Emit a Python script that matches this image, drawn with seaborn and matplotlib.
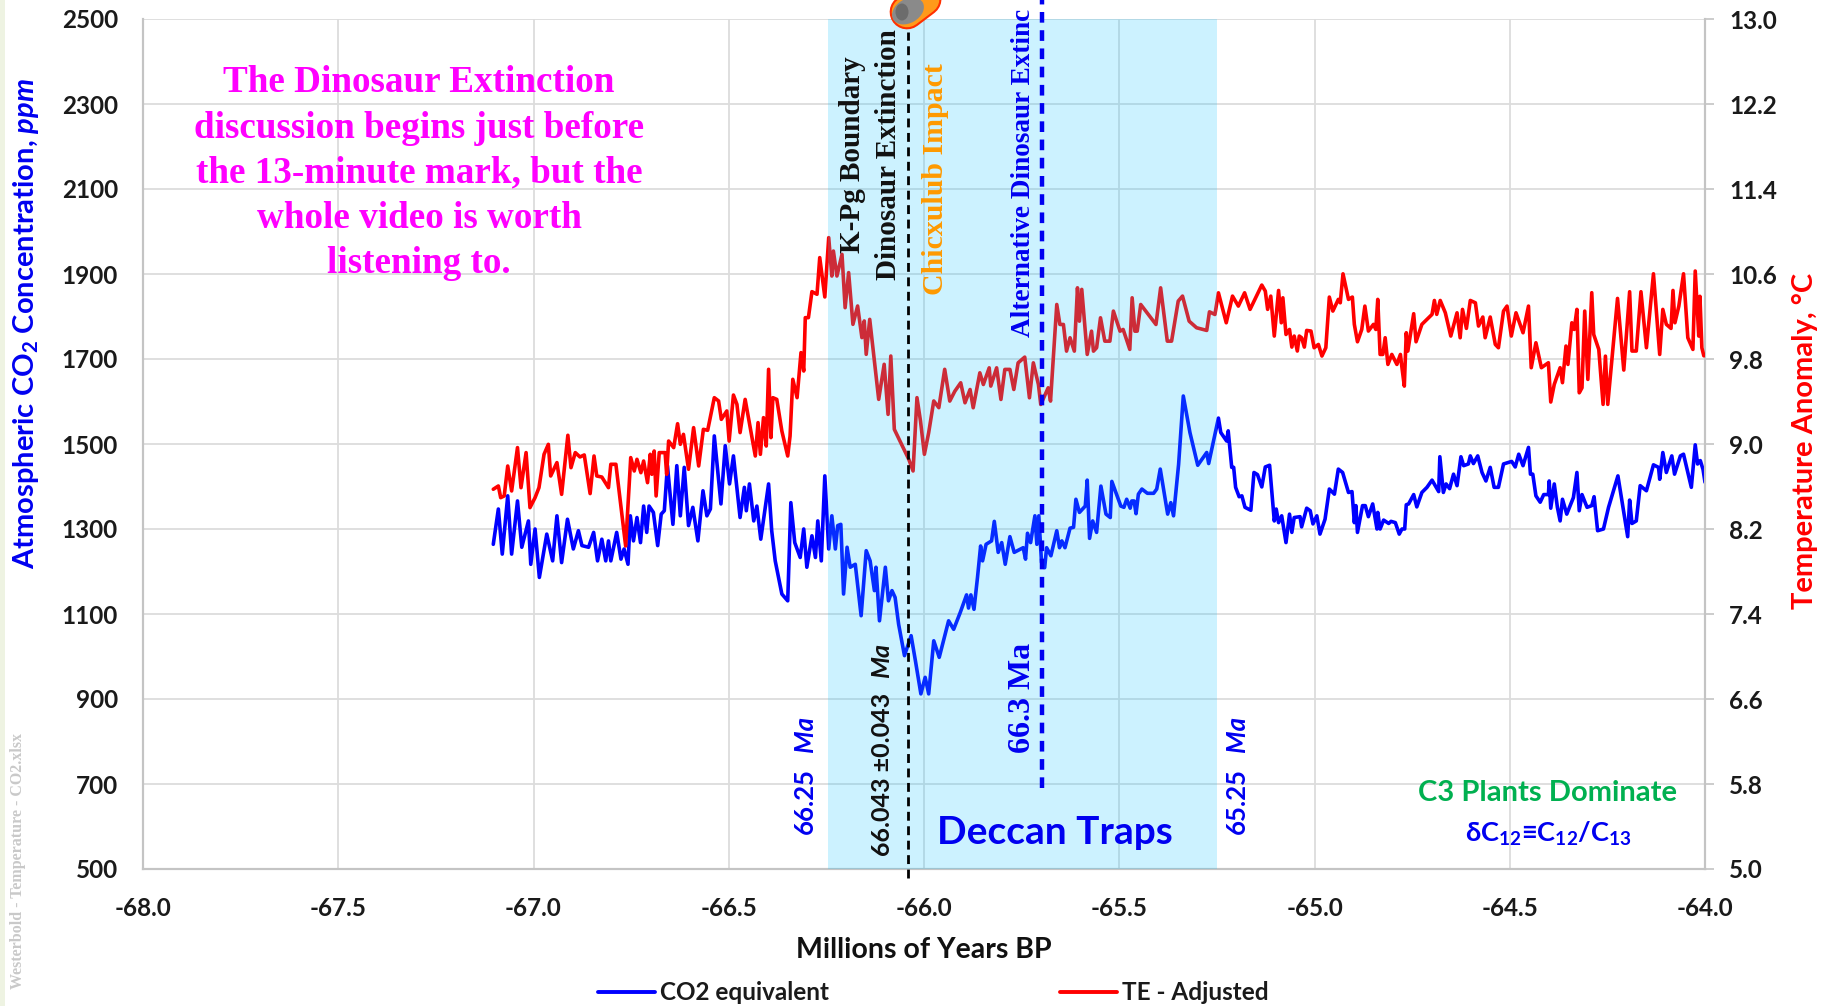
import matplotlib
matplotlib.use("Agg")
import matplotlib.pyplot as plt
from matplotlib.patches import Ellipse, Rectangle
from matplotlib.lines import Line2D
from matplotlib.transforms import Affine2D
import pandas as pd
import seaborn as sns

co2_years = [-67.103,-67.090,-67.080,-67.066,-67.056,-67.041,-67.030,-67.013,-67.007,-66.996,-66.985,-66.966,-66.951,-66.940,-66.928,-66.913,-66.898,-66.885,-66.876,-66.859,-66.846,-66.836,-66.825,-66.815,-66.808,-66.802,-66.787,-66.776,-66.768,-66.758,-66.752,-66.744,-66.735,-66.726,-66.718,-66.710,-66.704,-66.693,-66.682,-66.673,-66.665,-66.657,-66.643,-66.633,-66.624,-66.614,-66.603,-66.592,-66.579,-66.566,-66.556,-66.547,-66.537,-66.520,-66.509,-66.498,-66.488,-66.471,-66.460,-66.455,-66.447,-66.436,-66.428,-66.418,-66.398,-66.390,-66.381,-66.364,-66.349,-66.341,-66.331,-66.317,-66.308,-66.300,-66.287,-66.278,-66.272,-66.263,-66.254,-66.244,-66.236,-66.227,-66.221,-66.213,-66.206,-66.197,-66.189,-66.176,-66.161,-66.148,-66.138,-66.127,-66.123,-66.114,-66.099,-66.091,-66.082,-66.074,-66.065,-66.050,-66.033,-66.022,-66.008,-65.997,-65.988,-65.975,-65.961,-65.950,-65.937,-65.924,-65.907,
 -65.891,-65.886,-65.880,-65.872,-65.863,-65.855,-65.850,-65.841,-65.827,-65.820,-65.810,-65.801,-65.792,-65.780,-65.769,-65.746,-65.740,-65.735,-65.727,-65.716,-65.711,-65.706,-65.699,-65.691,-65.686,-65.675,-65.660,-65.653,-65.647,-65.639,-65.626,-65.617,-65.611,-65.602,-65.587,-65.582,-65.576,-65.568,-65.558,-65.547,-65.534,-65.523,-65.519,-65.496,-65.488,-65.481,-65.472,-65.468,-65.462,-65.457,-65.451,-65.442,-65.428,-65.412,-65.404,-65.395,-65.376,-65.368,-65.361,-65.348,-65.336,-65.319,-65.299,-65.276,-65.271,-65.246,-65.240,-65.225,-65.221,-65.212,-65.207,-65.202,-65.193,
 -65.186,-65.178,-65.163,-65.155,-65.146,-65.135,-65.126,-65.115,-65.103,-65.098,-65.092,-65.084,-65.073,-65.064,-65.058,-65.052,-65.037,-65.033,-65.020,-65.011,-65.004,-64.994,-64.986,-64.973,-64.962,-64.949,-64.939,-64.928,-64.913,-64.904,-64.898,-64.894,-64.890,-64.877,-64.870,-64.862,-64.851,-64.840,-64.838,-64.832,-64.823,-64.810,-64.804,-64.793,-64.783,-64.776,-64.769,-64.765,-64.759,-64.746,-64.738,-64.725,-64.712,-64.699,-64.682,-64.679,-64.670,-64.663,-64.654,-64.644,-64.635,-64.625,-64.618,-64.606,-64.601,-64.593,-64.582,-64.571,-64.561,-64.550,-64.540,-64.529,-64.516,-64.495,-64.486,-64.477,-64.466,-64.452,-64.447,-64.441,-64.433,-64.422,-64.413,-64.401,-64.399,-64.395,-64.386,-64.378,-64.371,-64.365,-64.354,-64.337,-64.328,-64.322,-64.315,-64.302,-64.290,-64.284,-64.275,-64.260,-64.247,-64.223,-64.198,-64.193,-64.187,-64.176,-64.166,-64.150,-64.132,-64.119,-64.116,-64.108,-64.099,-64.085,-64.078,-64.063,-64.055,-64.035,-64.025,-64.019,-64.012,-64.005,-64.000]
co2_ppm = [1264,1347,1241,1378,1241,1366,1257,1319,1217,1300,1186,1288,1225,1331,1221,1323,1253,1296,1261,1257,1292,1225,1276,1225,1272,1225,1292,1229,1253,1217,1331,1272,1327,1268,1354,1292,1354,1339,1261,1335,1343,1449,1311,1449,1331,1445,1308,1351,1272,1390,1331,1347,1519,1359,1496,1406,1472,1327,1398,1343,1406,1319,1354,1276,1406,1296,1225,1147,1131,1362,1268,1233,1300,1210,1284,1233,1319,1225,1425,1253,1331,1253,1308,1311,1147,1257,1210,1217,1096,1249,1225,1155,1210,1084,1210,1131,1155,1139,1076,1002,1049,990,912,951,912,1037,998,1037,1084,1064,1104,
 1145,1114,1145,1111,1186,1260,1225,1264,1272,1318,1245,1268,1217,1282,1245,1256,1229,1290,1268,1331,1264,1331,1221,1209,1256,1237,1296,1256,1272,1256,1302,1304,1370,1339,1354,1415,1278,1319,1292,1401,1335,1327,1412,1354,1351,1370,1349,1366,1366,1336,1382,1394,1384,1384,1394,1441,1335,1362,1331,1452,1613,1527,1450,1480,1454,1561,1527,1507,1531,1445,1445,1398,1376,
 1378,1351,1344,1433,1428,1399,1446,1450,1319,1347,1315,1331,1268,1335,1292,1327,1329,1305,1349,1343,1312,1331,1288,1323,1394,1382,1441,1433,1386,1388,1315,1355,1292,1355,1355,1329,1359,1300,1339,1300,1321,1313,1318,1315,1288,1300,1300,1357,1359,1381,1352,1386,1398,1415,1388,1470,1386,1406,1395,1429,1402,1470,1449,1453,1472,1454,1472,1433,1413,1445,1398,1398,1453,1459,1446,1476,1449,1492,1429,1429,1378,1363,1381,1381,1413,1349,1406,1351,1319,1370,1335,1374,1433,1343,1381,1351,1355,1376,1296,1300,1351,1425,1282,1368,1313,1319,1402,1390,1451,1445,1417,1480,1433,1472,1429,1472,1476,1398,1498,1453,1461,1440,1410]

temp_years = [-67.103,-67.090,-67.084,-67.075,-67.066,-67.056,-67.041,-67.032,-67.019,-67.009,-66.996,-66.986,-66.973,-66.962,-66.956,-66.940,-66.928,-66.912,-66.904,-66.893,-66.881,-66.870,-66.855,-66.845,-66.838,-66.825,-66.808,-66.802,-66.789,-66.764,-66.751,-66.742,-66.735,-66.725,-66.718,-66.708,-66.701,-66.697,-66.691,-66.686,-66.678,-66.663,-66.659,-66.654,-66.641,-66.631,-66.624,-66.616,-66.603,-66.590,-66.577,-66.565,-66.554,-66.537,-66.526,-66.519,-66.505,-66.499,-66.488,-66.479,-66.471,-66.458,-66.432,-66.425,-66.419,-66.411,-66.404,-66.398,-66.392,-66.387,-66.377,-66.364,-66.349,-66.343,-66.336,-66.325,-66.315,-66.308,-66.304,-66.296,-66.287,-66.274,-66.267,-66.254,-66.244,-66.236,-66.232,-66.223,-66.210,-66.202,-66.193,-66.182,-66.170,-66.159,-66.153,-66.148,-66.139,-66.116,-66.102,-66.092,-66.085,-66.076,-66.039,-66.028,-66.018,-66.009,-65.999,-65.988,-65.975,-65.962,-65.947,-65.934,-65.921,-65.906,
 -65.895,-65.882,-65.874,-65.857,-65.848,-65.833,-65.829,-65.814,-65.803,-65.793,-65.780,-65.770,-65.759,-65.742,-65.730,-65.720,-65.707,-65.701,-65.682,-65.676,-65.660,-65.652,-65.643,-65.635,-65.626,-65.615,-65.607,-65.602,-65.596,-65.582,-65.571,-65.566,-65.558,-65.548,-65.537,-65.524,-65.515,-65.498,-65.490,-65.473,-65.467,-65.460,-65.454,-65.445,-65.406,-65.394,-65.377,-65.366,-65.349,-65.338,-65.321,-65.302,-65.276,-65.269,-65.255,-65.246,
 -65.226,-65.210,-65.195,-65.179,-65.165,-65.135,-65.126,-65.120,-65.112,-65.103,-65.092,-65.085,-65.081,-65.073,-65.064,-65.058,-65.052,-65.044,-65.039,-65.033,-65.026,-65.020,-65.009,-65.001,-64.990,-64.981,-64.971,-64.962,-64.953,-64.939,-64.934,-64.927,-64.913,-64.903,-64.898,-64.890,-64.879,-64.871,-64.862,-64.849,-64.843,-64.838,-64.832,-64.825,-64.819,-64.812,-64.802,-64.789,-64.780,-64.776,-64.770,-64.765,-64.761,-64.746,-64.740,-64.725,-64.699,-64.693,-64.687,-64.678,-64.665,-64.651,-64.635,-64.627,-64.621,-64.611,-64.601,-64.588,-64.580,-64.569,-64.563,-64.550,-64.537,-64.529,-64.516,-64.507,-64.496,-64.484,-64.466,-64.452,-64.445,-64.433,-64.419,-64.401,-64.395,-64.386,-64.371,-64.365,-64.356,-64.351,-64.341,-64.335,-64.328,-64.322,-64.315,-64.308,-64.300,-64.290,-64.285,-64.272,-64.261,-64.255,-64.249,-64.224,-64.208,-64.193,-64.187,-64.176,-64.164,-64.150,-64.132,-64.116,-64.108,-64.099,-64.087,-64.082,-64.077,-64.067,-64.055,-64.044,-64.031,-64.025,-64.016,-64.013,-64.008,-64.003]
temp_anom = [8.574,8.605,8.495,8.511,8.793,8.558,8.966,8.589,8.919,8.401,8.495,8.589,8.903,8.997,8.699,8.825,8.526,9.082,8.777,8.919,8.878,8.897,8.533,8.887,8.699,8.689,8.589,8.809,8.809,8.040,8.872,8.746,8.856,8.730,8.840,8.636,8.903,8.715,8.934,8.511,8.919,8.919,8.715,9.028,8.966,9.191,8.997,9.091,8.762,9.154,8.793,9.138,9.129,9.436,9.405,9.232,9.311,9.028,9.461,9.373,9.107,9.420,8.887,9.201,8.903,9.248,8.981,9.703,9.060,9.436,9.420,9.122,8.887,9.075,9.609,9.436,9.860,9.687,10.189,10.189,10.434,10.409,10.754,10.384,10.942,10.581,10.816,10.581,10.785,10.283,10.613,10.126,10.299,10.001,10.158,9.844,10.173,9.420,9.750,9.279,9.828,9.138,8.856,8.746,9.436,9.217,8.903,9.107,9.405,9.342,9.703,9.404,9.497,9.576,
 9.388,9.513,9.341,9.670,9.560,9.717,9.545,9.717,9.419,9.702,9.702,9.513,9.764,9.818,9.435,9.764,9.560,9.372,9.529,9.404,10.313,10.125,10.125,9.874,10.000,9.874,10.470,10.156,10.455,9.843,10.062,9.874,9.906,10.188,9.968,9.968,10.251,10.062,10.078,9.890,10.376,10.062,10.062,10.313,10.125,10.470,9.968,9.968,10.345,10.392,10.156,10.094,10.069,10.244,10.219,10.423,
 10.141,10.392,10.298,10.423,10.267,10.496,10.439,10.267,10.392,10.016,10.445,10.141,10.376,10.031,10.078,9.912,10.016,9.875,10.016,10.000,9.912,10.069,10.063,9.906,9.937,9.828,9.906,10.383,10.251,10.361,10.329,10.602,10.361,10.383,10.126,9.962,10.078,10.298,10.063,10.126,10.078,10.361,9.843,9.843,10.000,9.749,9.843,9.749,9.843,9.718,9.545,10.047,9.875,10.226,9.962,10.126,10.220,10.351,10.220,10.351,10.235,10.016,10.235,10.000,10.267,10.088,10.351,10.329,10.110,10.195,10.000,10.195,9.937,9.906,10.251,10.298,10.016,10.235,10.047,10.298,9.718,9.953,9.718,9.765,9.395,9.561,9.718,9.577,9.922,9.749,10.141,10.078,10.267,9.482,9.529,10.251,9.608,10.424,10.031,9.890,9.373,9.827,9.373,10.370,9.696,10.433,9.875,9.875,10.433,9.906,10.602,9.843,10.267,10.126,10.088,10.445,10.141,10.298,10.602,10.000,9.890,10.628,10.016,10.390,9.905,9.830]

x_ticks = [-68.0,-67.5,-67.0,-66.5,-66.0,-65.5,-65.0,-64.5,-64.0]
co2_ticks = [500,700,900,1100,1300,1500,1700,1900,2100,2300,2500]
temp_ticks = [5.0,5.8,6.6,7.4,8.2,9.0,9.8,10.6,11.4,12.2,13.0]
message = ["The Dinosaur Extinction","discussion begins just before","the 13-minute mark, but the","whole video is worth","listening to."]

W, H = 1836, 1006
sns.set_theme(style="white")
SANS = "Lato"
SERIF = "Liberation Serif"
plt.rcParams.update({
    "font.family": [SANS, "DejaVu Sans"],
    "mathtext.fontset": "custom",
    "mathtext.rm": "Lato:bold",
    "mathtext.bf": "Lato:bold",
    "mathtext.it": "Lato:italic:bold",
    "mathtext.default": "bf",
    "mathtext.fallback": "stixsans",
})

def fx(px): return px / W
def fy(py): return 1 - py / H

fig = plt.figure(figsize=(W / 100, H / 100), dpi=100, facecolor="white")
fig.add_artist(Rectangle((0, 0), fx(5), 1, transform=fig.transFigure, color="#eef3e2", lw=0))
ax = fig.add_axes([fx(143), fy(869), (1705 - 143) / W, (869 - 19) / H])
ax2 = ax.twinx()

co2 = pd.DataFrame({"year": co2_years, "ppm": co2_ppm})
temp = pd.DataFrame({"year": temp_years, "anom": temp_anom})
sns.lineplot(data=co2, x="year", y="ppm", ax=ax, color="#0000ff", lw=2.6, estimator=None, sort=False, zorder=3, legend=False)
sns.lineplot(data=temp, x="year", y="anom", ax=ax2, color="#ff0000", lw=2.6, estimator=None, sort=False, zorder=3, legend=False)

ax.set_xlim(-68, -64); ax.set_ylim(500, 2500); ax2.set_ylim(5, 13)
ax.set_xticks(x_ticks); ax.set_yticks(co2_ticks); ax2.set_yticks(temp_ticks)
ax.set_xticklabels([f"{v:.1f}" for v in x_ticks])
ax.set_yticklabels([str(v) for v in co2_ticks])
ax2.set_yticklabels([f"{v:.1f}" for v in temp_ticks])
ax.grid(True, color="#dcdcdc", lw=1.3); ax.set_axisbelow(True)
ax2.grid(False)
for a in (ax, ax2):
    a.set_xlabel(""); a.set_ylabel("")
    a.patch.set_visible(a is ax)
    for s, sp in a.spines.items():
        sp.set_color("#c4c4c4"); sp.set_linewidth(1.5)
        sp.set_visible(s != "top")
ax.tick_params(axis="x", length=0, pad=20, labelsize=17.5, labelcolor="#1a1a1a")
ax.tick_params(axis="y", length=0, pad=18, labelsize=17.5, labelcolor="#1a1a1a")
ax2.tick_params(axis="y", length=6.5, width=1.2, color="#c4c4c4", pad=11, labelsize=17.5, labelcolor="#1a1a1a")
for l in ax.get_xticklabels() + ax.get_yticklabels() + ax2.get_yticklabels():
    l.set_fontweight("bold")

# translucent Deccan Traps band over lines
ax2.axvspan(-66.245, -65.25, color=(27 / 255, 200 / 255, 1), alpha=0.224, lw=0, zorder=5)
# event lines
ax2.plot([-66.04, -66.04], [4.92, 12.88], color="black", lw=2.0, dashes=(3.2, 2.0), zorder=6, clip_on=False)
ax2.plot([-65.698, -65.698], [5.76, 13.2], color="#0000f0", lw=3.2, dashes=(2.4, 1.7), zorder=6, clip_on=False)

def vtext(px, py, s, **kw):
    fig.text(fx(px), fy(py), s, rotation=90, ha="center", va="center", **kw)

bs = dict(family=SERIF, weight="bold")
vtext(853, 155, "K-Pg Boundary", color="#111111", fontsize=21, **bs)
vtext(888, 155, "Dinosaur Extinction", color="#111111", fontsize=21, **bs)
vtext(936, 179, "Chicxulub Impact", color="#ff9900", fontsize=21.5, **bs)
fig.text(fx(1023), fy(337), "Alternative Dinosaur Extinc", rotation=90, ha="center", va="bottom", color="#0000f0", fontsize=19.6, **bs)
vtext(1022, 698, "66.3 Ma", color="#0000f0", fontsize=23, **bs)

vtext(805, 801, "66.25", color="#0000f0", fontsize=18.5, weight="bold")
vtext(805, 734, "Ma", color="#0000f0", fontsize=18.5, weight="bold", style="italic")
vtext(1237, 801, "65.25", color="#0000f0", fontsize=18.5, weight="bold")
vtext(1237, 734, "Ma", color="#0000f0", fontsize=18.5, weight="bold", style="italic")
vtext(882, 774, "66.043 ±0.043", color="#111111", fontsize=18, weight="bold")
vtext(882, 661, "Ma", color="#111111", fontsize=18, weight="bold", style="italic")

fig.text(fx(1055), fy(833), "Deccan Traps", ha="center", va="center", color="#0000f0", fontsize=28, weight="bold")
fig.text(fx(1547), fy(793), "C3 Plants Dominate", ha="center", va="center", color="#00b050", fontsize=21, weight="bold")
fig.text(fx(1548), fy(834), r"δC$_{12}$≡C$_{12}$/C$_{13}$", ha="center", va="center", color="#0000f0", fontsize=19.5, weight="bold")

for i, line in enumerate(message):
    fig.text(fx(419), fy(83 + 45 * i), line, ha="center", va="center", color="#ff00ff", fontsize=26.7, **bs)

vtext(26, 323, r"Atmospheric CO$_{2}$ Concentration, $\mathit{ppm}$", color="#0000f0", fontsize=21, weight="bold")
vtext(1805, 441, "Temperature Anomaly, °C", color="#ff0000", fontsize=21, weight="bold")
vtext(18, 861, "Westerbold - Temperature - CO2.xlsx", color="#c9c9c9", fontsize=11.5, **bs)
fig.text(fx(924), fy(950), "Millions of Years BP", ha="center", va="center", color="#111111", fontsize=20.5, weight="bold")

handles = [Line2D([], [], color="#0000ff", lw=2.8), Line2D([], [], color="#ff0000", lw=2.8)]
leg = fig.legend(handles, ["CO2 equivalent", "TE - Adjusted"], ncol=2, loc="center",
                 bbox_to_anchor=(fx(933), fy(993)), frameon=False,
                 handlelength=2.35, handletextpad=0.2, columnspacing=9.5, borderpad=0, labelcolor="#1a1a1a",
                 prop={"family": SANS, "weight": "bold", "size": 17.5})

# meteor icon
px_tr = Affine2D().scale(1 / W, -1 / H).translate(0, 1) + fig.transFigure
fig.add_artist(Line2D([907, 965], [12, -32], transform=px_tr, color="#ff3000", lw=25, solid_capstyle="round", zorder=9))
fig.add_artist(Line2D([907, 965], [12, -32], transform=px_tr, color="#ff9a1a", lw=22, solid_capstyle="round", zorder=9))
fig.add_artist(Ellipse((908, 11), 34, 24, angle=-30, transform=px_tr, color="#8a8a8a", lw=0, zorder=10))
fig.add_artist(Ellipse((902, 12), 13, 17, angle=0, transform=px_tr, color="#6c6c6c", lw=0, zorder=11))

fig.savefig("out.png", dpi=100)
